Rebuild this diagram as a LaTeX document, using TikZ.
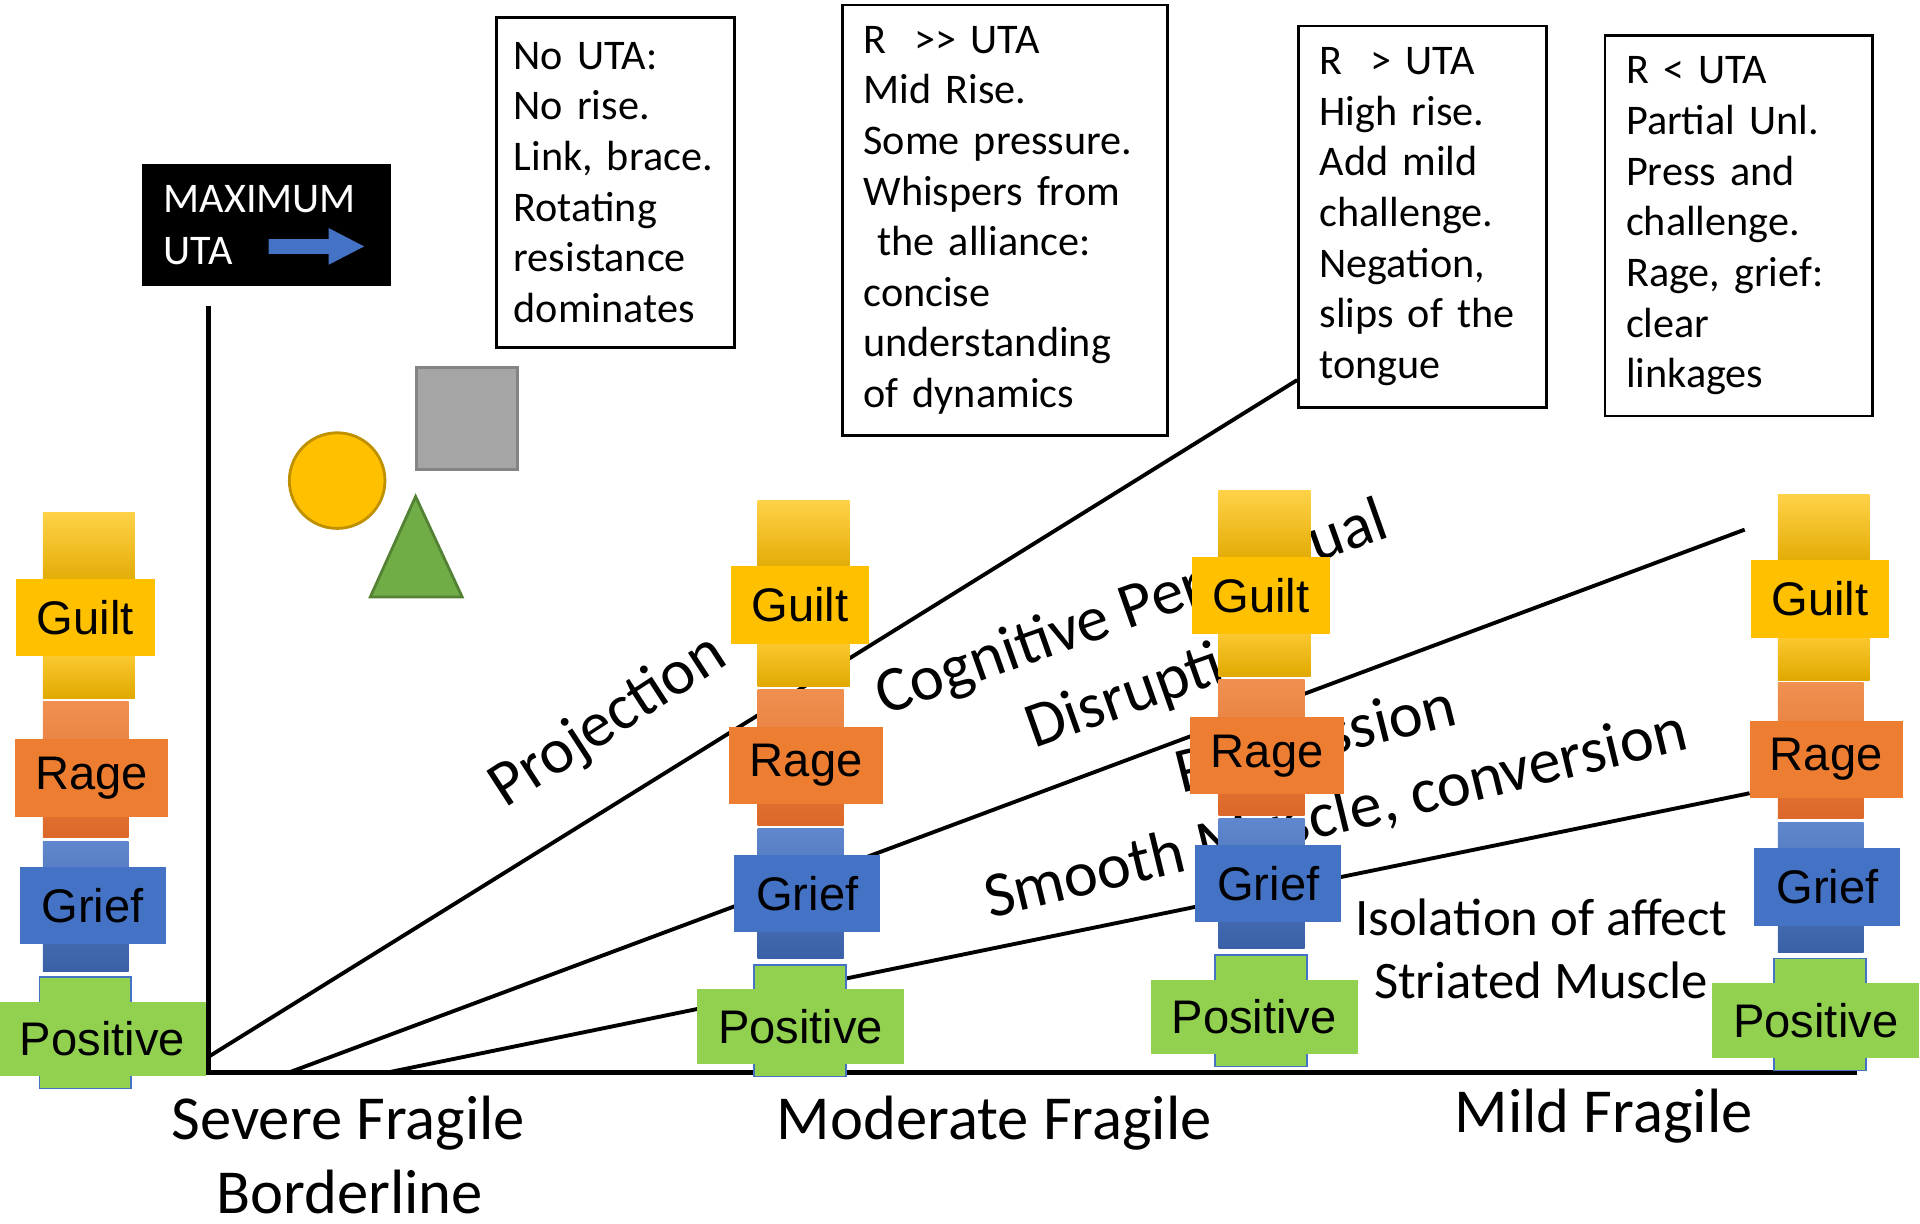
\documentclass[tikz,border=0pt]{standalone}
\usepackage{fontspec}
\setmainfont{Carlito}
\newfontfamily\arialfont{Liberation Sans}
\usepackage{tikz}

\definecolor{guiltc}{HTML}{FFC000}
\definecolor{ragec}{HTML}{ED7D31}
\definecolor{griefc}{HTML}{4472C4}
\definecolor{posc}{HTML}{92D050}
\definecolor{trianglec}{HTML}{70AD47}
\definecolor{squarec}{HTML}{A5A5A5}

\begin{document}
\begin{tikzpicture}[x=0.01226cm,y=-0.01226cm,
  axis/.style={line width=1.4pt},
  diag/.style={line width=1.1pt},
  note/.style={draw,line width=0.8pt,fill=white,anchor=north west,align=left,
    inner xsep=0.21cm,inner ysep=0pt,font=\fontsize{12}{14.4}\selectfont},
  tag/.style={inner sep=0pt,font=\arialfont\fontsize{13.4}{16}\selectfont},
  slant/.style={anchor=base west,inner sep=0pt,font=\fontsize{18.3}{22}\selectfont},
  fragile/.style={inner sep=0pt,font=\fontsize{17.8}{21}\selectfont},
  muscle/.style={inner sep=0pt,font=\fontsize{15}{18}\selectfont}]
\useasboundingbox (0,0) rectangle (1566,998.3);

% maximum uta
\node[fill=black,text=white,anchor=north west,align=left,text width=2.05cm,
  minimum height=1.226cm,inner xsep=0.22cm,inner ysep=0pt,
  font=\fontsize{12}{14.6}\selectfont] (maxuta) at (115,133) {MAXIMUM\\UTA};
\fill[griefc] (219,195) -- (268,195) -- (268,186) -- (297,201) -- (268,216)
  -- (268,207) -- (219,207) -- cycle;

% notes
\node[note,text width=2.04cm,inner xsep=0.169cm,minimum height=3.30cm] (noteA) at (404,13)
  {No UTA:\\No rise.\\Link, brace.\\Rotating\\resistance\\dominates};
\node[note,text width=2.83cm,minimum height=4.30cm] (noteB) at (686,3)
  {R\ \ >{}> UTA\\Mid Rise.\\Some pressure.\\Whispers from\\\ the alliance:\\concise\\understanding\\of dynamics};
\node[note,text width=2.06cm,minimum height=3.81cm] (noteC) at (1058,20)
  {R\ \ > UTA\\High rise.\\Add mild\\challenge.\\Negation,\\slips of the\\tongue};
\node[note,text width=2.256cm,minimum height=3.80cm] (noteD) at (1308,28)
  {R\ < UTA\\Partial Unl.\\Press and\\challenge.\\Rage, grief:\\clear\\linkages};

% circle, square, triangle
\draw[fill=guiltc,draw=guiltc!75!black,line width=0.8pt] (275,392) circle (0.478cm);
\draw[fill=squarec,draw=squarec!80!black,line width=0.8pt] (340,300) rectangle (422,383);
\draw[fill=trianglec,draw=trianglec!75!black,line width=0.8pt] (339,405) -- (377,487) -- (302,487) -- cycle;

% axes
\coordinate (ytop) at (170,250);
\coordinate (o) at (170,875);
\coordinate (xend) at (1515,875);
\draw[axis] (ytop) -- (o) -- (xend);

% rising lines
\coordinate (s1) at (170,862);
\coordinate (s2) at (235,875);
\coordinate (s3) at (315,875);
\coordinate (e1) at (1058,310);
\coordinate (e2) at (1423,432);
\coordinate (e3) at (1427,647);
\draw[diag] (s1) -- (e1);
\draw[diag] (s2) -- (e2);
\draw[diag] (s3) -- (e3);

% labels on the lines
\node[slant,rotate=33] (proj) at (412,660) {Projection};
\node[slant,rotate=19.5] (cogn) at (721,584) {Cognitive Perceptual};
\node[slant,rotate=19.5] (disr) at (843,611) {Disruption};
\node[slant,rotate=14] (repr) at (963,647) {Repression};
\node[slant,rotate=13.6] (smooth) at (807,749) {Smooth Muscle, conversion};
\node[muscle] (isol) at (1257,748) {Isolation of affect};
\node[muscle] (striated) at (1257,800) {Striated Muscle};

% fragile levels
\node[fragile] (severe) at (284,916) {Severe Fragile};
\node[fragile] (border) at (285,972) {Borderline};
\node[fragile] (moderate) at (811,916) {Moderate Fragile};
\node[fragile] (mild) at (1308,910) {Mild Fragile};

% stacks
\foreach \n/\sx/\sy/\px in {1/35/418/48.5,2/618/408/35,3/994/400/29,4/1450/403/31}{
  \begin{scope}[shift={(\sx,\sy)}]
    \shade[top color=guiltc!72!white,middle color=guiltc,bottom color=guiltc!88!black] (0,0) rectangle (75,60);
    \shade[top color=guiltc!78!white,middle color=guiltc,bottom color=guiltc!88!black] (0,110) rectangle (75,152);
    \shade[top color=ragec!85!white,bottom color=ragec!90!red!92!black] (0,154) rectangle (70,265);
    \shade[top color=griefc!85!white,bottom color=griefc!85!black] (0,268) rectangle (70,374);
    \filldraw[fill=posc,draw=griefc,line width=0.4pt] (-3,379) rectangle (72,470);
    \node[tag,fill=guiltc,minimum width=1.385cm,minimum height=0.772cm] (guilt\n) at (34.5,85.5) {Guilt};
    \node[tag,fill=ragec,minimum width=1.533cm,minimum height=0.772cm] (rage\n) at (39.5,216.5) {Rage};
    \node[tag,fill=griefc,minimum width=1.459cm,minimum height=0.772cm] (grief\n) at (40.5,320.5) {Grief};
    \node[tag,fill=posc,minimum width=2.07cm,minimum height=0.748cm] (pos\n) at (\px,429.5) {Positive};
  \end{scope}
}
\end{tikzpicture}
\end{document}
